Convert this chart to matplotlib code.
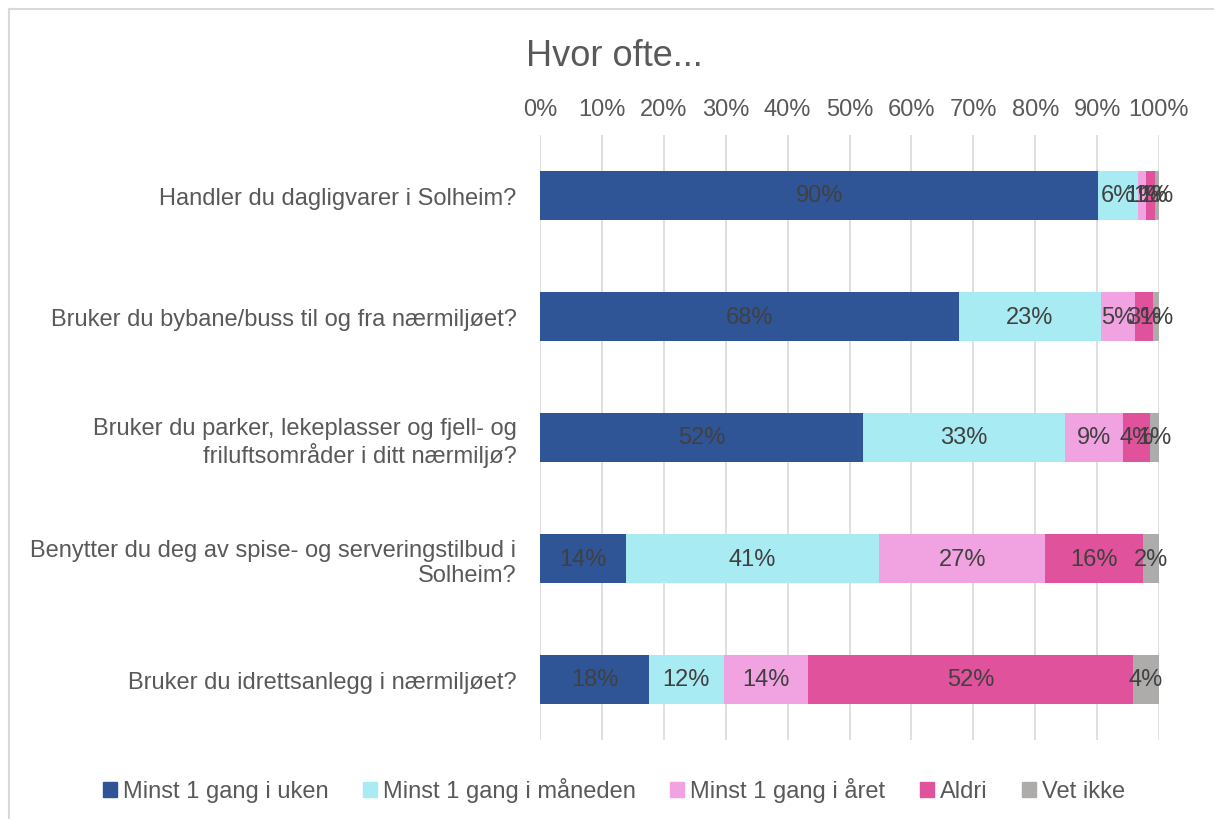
import numpy as np
import matplotlib
matplotlib.use("Agg")
import matplotlib.pyplot as plt
from matplotlib.lines import Line2D

plt.rcParams['font.family'] = ['Liberation Sans', 'DejaVu Sans']

questions = [
    "Handler du dagligvarer i Solheim?",
    "Bruker du bybane/buss til og fra nærmiljøet?",
    "Bruker du parker, lekeplasser og fjell- og\nfriluftsområder i ditt nærmiljø?",
    "Benytter du deg av spise- og serveringstilbud i\nSolheim?",
    "Bruker du idrettsanlegg i nærmiljøet?",
]
series = ["Minst 1 gang i uken", "Minst 1 gang i måneden", "Minst 1 gang i året", "Aldri", "Vet ikke"]
colors = ["#2F5597", "#A9EBF3", "#F0A3E0", "#E0529C", "#AEACAB"]

uke = [90.2, 67.7, 52.2, 13.9, 17.6]
maaned = [6.4, 22.9, 32.6, 40.9, 12.1]
aar = [1.3, 5.5, 9.4, 26.8, 13.6]
aldri = [1.4, 2.9, 4.4, 15.8, 52.5]
vet_ikke = [0.7, 1.0, 1.4, 2.6, 4.2]
labels = [
    ["90%", "68%", "52%", "14%", "18%"],
    ["6%", "23%", "33%", "41%", "12%"],
    ["1%", "5%", "9%", "27%", "14%"],
    ["1%", "3%", "4%", "16%", "52%"],
    ["1%", "1%", "1%", "2%", "4%"],
]

fs = 17

fig = plt.figure(figsize=(12.14, 8.2), dpi=100)
ax = fig.add_axes([540 / 1214, 1 - 741 / 820, 619 / 1214, 605 / 820])

y = np.arange(len(questions))
left = np.zeros(len(questions))
for vals, lab, name, col in zip([uke, maaned, aar, aldri, vet_ikke], labels, series, colors):
    vals = np.array(vals)
    ax.barh(y, vals, left=left, height=0.4, color=col, label=name, zorder=3)
    for yi, (l, v, t) in enumerate(zip(left, vals, lab)):
        ax.text(l + v / 2, yi, t, ha="center", va="center", fontsize=fs, color="#404040", zorder=4)
    left += vals

ax.set_xlim(0, 100)
ax.set_ylim(len(questions) - 0.5, -0.5)
ax.set_xticks(np.arange(0, 101, 10))
ax.set_xticklabels([f"{v}%" for v in range(0, 101, 10)])
ax.xaxis.tick_top()
ax.tick_params(axis="x", length=0, pad=11, labelsize=fs, labelcolor="#595959")
ax.set_yticks(y)
ax.set_yticklabels(questions, fontsize=fs, color="#595959")
ax.tick_params(axis="y", length=0, pad=17)
for lbl in ax.get_yticklabels():
    lbl.set_multialignment("right")
ax.grid(axis="x", color="#D9D9D9", linewidth=1.2, zorder=0)
for s in ax.spines.values():
    s.set_visible(False)

fig.text(614 / 1214, 1 - 57 / 820, "Hvor ofte...", ha="center", va="center", fontsize=26, color="#595959")

handles = [plt.Rectangle((0, 0), 1, 1, color=c) for c in colors]
fig.legend(handles, series, loc="center", bbox_to_anchor=(614 / 1214, 1 - 791 / 820), ncol=5,
           frameon=False, fontsize=fs, handlelength=0.6, handleheight=0.6, handletextpad=0.25,
           columnspacing=1.45, labelcolor="#595959")

# outer chart border
fig.add_artist(Line2D([9 / 1214, 1.0], [1 - 10 / 820] * 2, color="#D9D9D9", linewidth=1.5, transform=fig.transFigure))
fig.add_artist(Line2D([9 / 1214] * 2, [0, 1 - 10 / 820], color="#D9D9D9", linewidth=1.5, transform=fig.transFigure))

fig.savefig("out.png", dpi=100)
